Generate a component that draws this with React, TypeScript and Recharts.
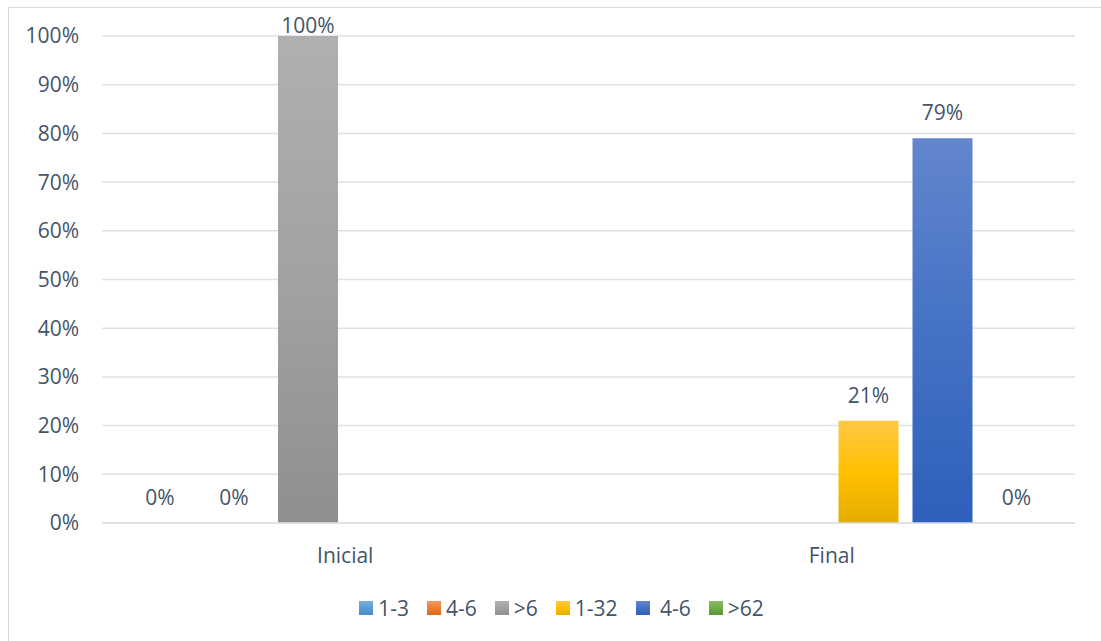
import React from "react";
import {
  BarChart,
  Bar,
  XAxis,
  YAxis,
  CartesianGrid,
  Legend,
  LabelList,
} from "recharts";

const categories = ["Inicial", "Final"];
const seriesNames = ["1-3", "4-6", ">6", "1-32", " 4-6", ">62"];
const range13 = [0, null];
const range46 = [0, null];
const rangeOver6 = [1, null];
const range132 = [null, 0.21];
const range46b = [null, 0.79];
const rangeOver62 = [null, 0];
const yTicks = [0, 0.1, 0.2, 0.3, 0.4, 0.5, 0.6, 0.7, 0.8, 0.9, 1];

const seriesValues = [range13, range46, rangeOver6, range132, range46b, rangeOver62];

// top / middle / bottom of the vertical gradient fill
const gradients = [
  ["#7aaede", "#5b9bd5", "#4a8ac6"],
  ["#f49a5c", "#ed7d31", "#d86a1e"],
  ["#b0b0b0", "#a2a2a2", "#8f8f8f"],
  ["#ffc845", "#ffc000", "#e3ad00"],
  ["#6386cd", "#4472c4", "#2e5fbb"],
  ["#86bd60", "#70ad47", "#5c9636"],
];

const data = categories.map((name, i) => {
  const row: Record<string, any> = { name };
  seriesValues.forEach((vals, s) => {
    row["s" + s] = vals[i];
  });
  return row;
});

const FONT = "'Open Sans', sans-serif";
const TEXT = "#44546A";
const FS = 21;

const pct = (v: number) => `${Math.round(v * 100)}%`;

const BarLabel = (props: any) => {
  const { x, y, width, value } = props;
  if (value === null || value === undefined) return null;
  const baseline = Math.max(Number(y) - 18, 33);
  return (
    <text
      x={Number(x) + Number(width) / 2}
      y={baseline}
      textAnchor="middle"
      fill={TEXT}
      fontSize={FS}
      fontFamily={FONT}
    >
      {pct(value)}
    </text>
  );
};

const LegendContent = () => (
  <div
    style={{
      display: "flex",
      justifyContent: "center",
      alignItems: "center",
      height: 30,
      paddingLeft: 48,
      fontFamily: FONT,
      fontSize: FS,
      color: TEXT,
      whiteSpace: "pre",
    }}
  >
    {seriesNames.map((n, i) => (
      <div key={i} style={{ display: "flex", alignItems: "center", marginRight: i < 5 ? 18 : 0 }}>
        <span
          style={{
            width: 14,
            height: 14,
            marginRight: 5,
            background: `linear-gradient(${gradients[i][0]}, ${gradients[i][1]}, ${gradients[i][2]})`,
          }}
        />
        <span>{n}</span>
      </div>
    ))}
  </div>
);

export default function App() {
  return (
    <div
      style={{
        position: "absolute",
        left: 0,
        top: 0,
        width: 1101,
        height: 641,
        overflow: "hidden",
        background: "#fff",
      }}
    >
      <div
        style={{
          position: "absolute",
          left: 8,
          top: 7,
          width: 1100,
          height: 640,
          borderTop: "1px solid #d9d9d9",
          borderLeft: "1px solid #d9d9d9",
        }}
      />
      <BarChart
        width={1101}
        height={641}
        data={data}
        margin={{ top: 36, right: 26, bottom: 18, left: 0 }}
        barSize={60}
        barGap={14}
        style={{ position: "absolute", left: 0, top: 0 }}
      >
        <defs>
          {gradients.map((g, i) => (
            <linearGradient key={i} id={"grad" + i} x1="0" y1="0" x2="0" y2="1">
              <stop offset="0%" stopColor={g[0]} />
              <stop offset="50%" stopColor={g[1]} />
              <stop offset="100%" stopColor={g[2]} />
            </linearGradient>
          ))}
        </defs>
        <CartesianGrid vertical={false} stroke="#dde1e7" strokeWidth={1.5} />
        <XAxis
          dataKey="name"
          height={70}
          tickLine={false}
          tickSize={0}
          tickMargin={25}
          axisLine={{ stroke: "#dde1e7", strokeWidth: 1.5 }}
          tick={{ fill: TEXT, fontSize: FS, fontFamily: FONT }}
        />
        <YAxis
          width={102}
          domain={[0, 1]}
          ticks={yTicks}
          tickFormatter={pct}
          axisLine={false}
          tickLine={false}
          tickSize={0}
          tickMargin={23}
          tick={{ fill: TEXT, fontSize: FS, fontFamily: FONT }}
        />
        <Legend verticalAlign="bottom" height={30} content={<LegendContent />} />
        {seriesNames.map((n, i) => (
          <Bar
            key={i}
            dataKey={"s" + i}
            name={n}
            fill={`url(#grad${i})`}
            minPointSize={0.01}
            isAnimationActive={false}
          >
            <LabelList dataKey={"s" + i} content={<BarLabel />} />
          </Bar>
        ))}
      </BarChart>
    </div>
  );
}
